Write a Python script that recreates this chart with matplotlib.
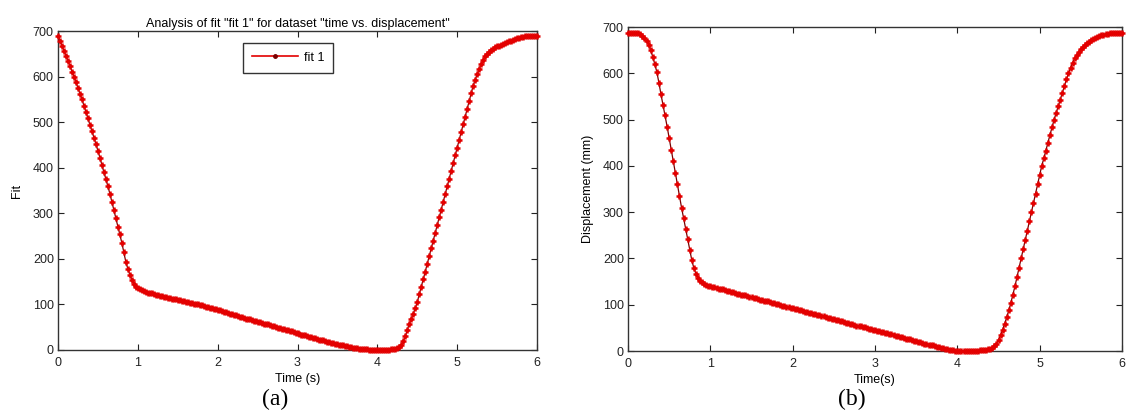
import numpy as np
import matplotlib
matplotlib.use("Agg")
import matplotlib.pyplot as plt
from matplotlib.lines import Line2D

plt.rcParams['font.family'] = ['Liberation Sans', 'DejaVu Sans']

# time base (s), uniform sampling of the fitted curves
time_s = np.linspace(0, 6, 241)

# panel (a): fit 1 values
fit_values = [
    690, 679, 668, 656, 645, 634, 623, 611, 600, 587, 575, 562, 550, 536, 522, 508,
    494, 480, 466, 452, 437, 422, 406, 390, 375, 359, 343, 325, 307, 289, 271, 254,
    235, 214, 193, 178, 165, 154, 145, 139, 135,
    133, 131, 129, 127, 126, 125, 124, 123, 121, 120, 119, 118, 117, 116, 115, 114,
    113, 112, 111, 110, 109, 108, 107, 106, 105, 104, 103, 102, 101, 100, 99, 98,
    97, 95, 94, 93, 92, 90, 89, 88,
    87, 85, 84, 83, 81, 80, 79, 77, 76, 75, 73, 72, 71, 69, 68, 67,
    66, 64, 63, 62, 61, 59, 58, 57, 56, 54, 53, 52, 51, 49, 48, 47,
    46, 44, 43, 42, 41, 39, 38, 37,
    36, 34, 33, 32, 31, 29, 28, 27, 26, 24, 23, 22, 21, 20, 18, 17,
    16, 15, 14, 13, 12, 11, 10, 9, 8, 7, 6, 5, 4, 4, 3, 3,
    2, 2, 2, 1, 1, 1, 1, 1,
    1, 1, 1, 1, 1, 1, 2, 2, 3, 4, 7, 12, 20, 30, 44, 58,
    69, 80, 92, 105, 122, 139, 155, 172, 189, 206, 223, 240, 257, 274, 291, 308,
    325, 342, 359, 376, 393, 410, 427, 444,
    461, 478, 495, 512, 529, 546, 563, 580, 593, 605, 617, 628, 637, 645, 650, 655,
    658, 661, 664, 666, 668, 670, 672, 674, 676, 678, 679, 681, 682, 684, 685, 686,
    687, 688, 688, 689, 689, 690, 690, 690,
]

# panel (b): measured displacement (mm)
displacement_mm = [
    688, 688, 688, 687, 687, 686, 684, 681, 676, 670, 662, 650, 636, 620, 603, 580,
    555, 532, 509, 485, 460, 435, 410, 385, 360, 335, 310, 287, 264, 241, 218, 196,
    179, 167, 158, 152, 148, 145, 143, 141, 140,
    139, 138, 136, 135, 134, 133, 132, 130, 129, 128, 127, 126, 124, 123, 122, 121,
    120, 119, 117, 116, 115, 114, 113, 111, 110, 109, 108, 107, 105, 104, 103, 102,
    101, 99, 98, 97, 96, 95, 93, 92,
    91, 90, 89, 88, 86, 85, 84, 83, 82, 81, 79, 78, 77, 76, 75, 73,
    72, 71, 70, 69, 67, 66, 65, 64, 63, 61, 60, 59, 58, 57, 55, 54,
    53, 52, 51, 49, 48, 47, 46, 45,
    44, 43, 41, 40, 39, 38, 37, 36, 34, 33, 32, 31, 30, 28, 27, 26,
    25, 24, 22, 21, 20, 19, 18, 16, 15, 14, 13, 12, 10, 9, 8, 7,
    6, 5, 4, 3, 2, 2, 1, 1,
    0, 0, 0, 0, 0, 0, 0, 1, 1, 1, 2, 2, 3, 3, 4, 5,
    7, 10, 16, 24, 34, 46, 59, 73, 88, 104, 122, 140, 160, 180, 200, 220,
    240, 260, 280, 300, 320, 340, 360, 380,
    400, 416, 433, 450, 467, 483, 500, 514, 529, 543, 558, 572, 587, 600, 612, 623,
    632, 640, 646, 652, 657, 662, 665, 668, 671, 674, 676, 678, 680, 682, 683, 684,
    685, 686, 686, 687, 687, 688, 688, 688,
]

x_ticks = [0, 1, 2, 3, 4, 5, 6]
y_ticks = [0, 100, 200, 300, 400, 500, 600, 700]

RED = '#e30000'
DARK = '#7a0000'

W, H = 1126, 416
fig = plt.figure(figsize=(W / 100, H / 100), dpi=100)


def make_axes(l, t, r, b):
    return fig.add_axes([l / W, 1 - b / H, (r - l) / W, (b - t) / H])


def style(ax):
    ax.set_xlim(0, 6)
    ax.set_ylim(0, 700)
    ax.set_xticks(x_ticks)
    ax.set_yticks(y_ticks)
    ax.tick_params(direction='in', length=4, width=0.8, top=True, right=True,
                   labelsize=9, colors='#222222')
    ax.tick_params(axis='x', pad=5)
    ax.tick_params(axis='y', pad=3)
    for s in ax.spines.values():
        s.set_linewidth(1.0)
        s.set_color('#333333')


def draw(ax, y):
    ax.plot(time_s, y, color=DARK, lw=0.9, zorder=2)
    ax.plot(time_s, y, ls='none', marker='+', ms=5, mew=1.8, color=RED, zorder=3,
            clip_on=False)


ax1 = make_axes(58, 31, 537, 350)
draw(ax1, fit_values)
style(ax1)
ax1.set_title('Analysis of fit "fit 1" for dataset "time vs. displacement"',
              fontsize=9, pad=3)
ax1.set_xlabel('Time (s)', fontsize=9, labelpad=3)
ax1.set_ylabel('Fit', fontsize=9, labelpad=7)
handle = Line2D([], [], color=RED, lw=1.2, marker='.', ms=5, markerfacecolor=DARK,
                markeredgecolor=DARK)
leg = ax1.legend([handle], ['fit 1'], loc='upper left', bbox_to_anchor=(0.386, 0.962),
                 borderaxespad=0, fancybox=False, edgecolor='black', fontsize=9,
                 handlelength=3.7, borderpad=0.7, handletextpad=0.45)
leg.get_frame().set_linewidth(1.0)

ax2 = make_axes(628, 27, 1122, 351)
draw(ax2, displacement_mm)
style(ax2)
ax2.set_xlabel('Time(s)', fontsize=9, labelpad=3)
ax2.set_ylabel('Displacement (mm)', fontsize=9, labelpad=6)

fig.text(275 / W, 1 - 399 / H, '(a)', ha='center', va='center', fontsize=17,
         family='Liberation Serif')
fig.text(852 / W, 1 - 399 / H, '(b)', ha='center', va='center', fontsize=17,
         family='Liberation Serif')

fig.savefig('out.png', dpi=100)
